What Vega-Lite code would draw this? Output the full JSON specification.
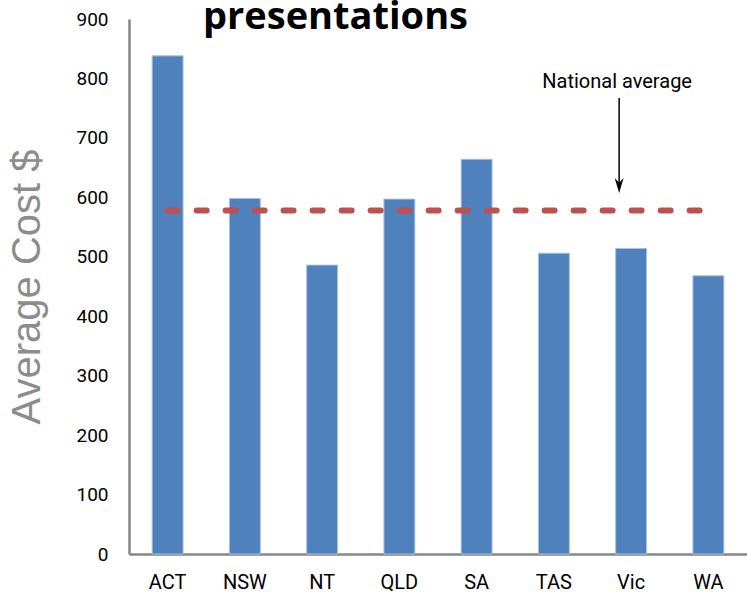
{
  "$schema": "https://vega.github.io/schema/vega-lite/v6.json",
  "width": 618,
  "height": 535,
  "autosize": {"type": "none"},
  "padding": {"left": 129, "top": 19, "right": 0, "bottom": 51},
  "background": "white",
  "title": {
    "text": "presentations",
    "font": "Open Sans",
    "fontSize": 38,
    "fontWeight": "bold",
    "color": "black",
    "anchor": "start",
    "frame": "group",
    "baseline": "alphabetic",
    "offset": 0,
    "dx": 74,
    "dy": 57
  },
  "config": {
    "view": {"stroke": null},
    "axis": {"grid": false, "ticks": false, "domainColor": "#868686", "domainWidth": 2.5,
             "labelFont": "Liberation Sans Narrow, Roboto", "labelColor": "black"}
  },
  "datasets": {
    "costs": [
      {"state": "ACT", "cost": 838},
      {"state": "NSW", "cost": 598},
      {"state": "NT", "cost": 486},
      {"state": "QLD", "cost": 597},
      {"state": "SA", "cost": 664},
      {"state": "TAS", "cost": 506},
      {"state": "Vic", "cost": 514},
      {"state": "WA", "cost": 468}
    ],
    "average": [
      {"from": "ACT", "to": "WA", "avg": 578}
    ],
    "note": [
      {"state": "Vic", "label": "National average", "textAt": 784, "top": 767, "head": 620}
    ]
  },
  "layer": [
    {
      "data": {"name": "costs"},
      "mark": {"type": "bar", "color": "#4F81BD", "stroke": "#A7C0DE", "strokeWidth": 1},
      "encoding": {
        "x": {
          "field": "state", "type": "nominal", "sort": null,
          "scale": {"paddingInner": 0.6, "paddingOuter": 0.3},
          "axis": {"title": null, "labelAngle": 0, "labelFontSize": 20, "labelPadding": 28, "labelBaseline": "middle"}
        },
        "y": {
          "field": "cost", "type": "quantitative",
          "scale": {"domain": [0, 900], "nice": false},
          "axis": {
            "title": "Average Cost $", "values": [0, 100, 200, 300, 400, 500, 600, 700, 800, 900],
            "labelFontSize": 19, "labelPadding": 21,
            "titleFont": "Liberation Sans", "titleFontSize": 40, "titleFontWeight": "normal",
            "titleColor": "#8C8C8C", "titlePadding": 28
          }
        }
      }
    },
    {
      "data": {"name": "average"},
      "mark": {"type": "rule", "color": "#C0504D", "strokeWidth": 6, "strokeDash": [10, 19], "strokeCap": "round"},
      "encoding": {
        "x": {"field": "from", "type": "nominal", "sort": null},
        "x2": {"field": "to"},
        "y": {"field": "avg", "type": "quantitative"}
      }
    },
    {
      "data": {"name": "note"},
      "mark": {"type": "rule", "color": "black", "strokeWidth": 1.5, "xOffset": -12},
      "encoding": {
        "x": {"field": "state", "type": "nominal", "sort": null},
        "y": {"field": "top", "type": "quantitative"},
        "y2": {"field": "head"}
      }
    },
    {
      "data": {"name": "note"},
      "mark": {"type": "point", "filled": true, "color": "black", "opacity": 1, "size": 225, "strokeWidth": 0,
               "shape": "M0,1 L-0.6,-1 L0,-0.35 L0.6,-1 Z", "xOffset": -12},
      "encoding": {
        "x": {"field": "state", "type": "nominal", "sort": null},
        "y": {"field": "head", "type": "quantitative"}
      }
    },
    {
      "data": {"name": "note"},
      "mark": {"type": "text", "font": "Liberation Sans Narrow, Roboto", "fontSize": 20, "color": "black", "baseline": "alphabetic", "xOffset": -14},
      "encoding": {
        "x": {"field": "state", "type": "nominal", "sort": null},
        "y": {"field": "textAt", "type": "quantitative"},
        "text": {"field": "label"}
      }
    }
  ]
}
